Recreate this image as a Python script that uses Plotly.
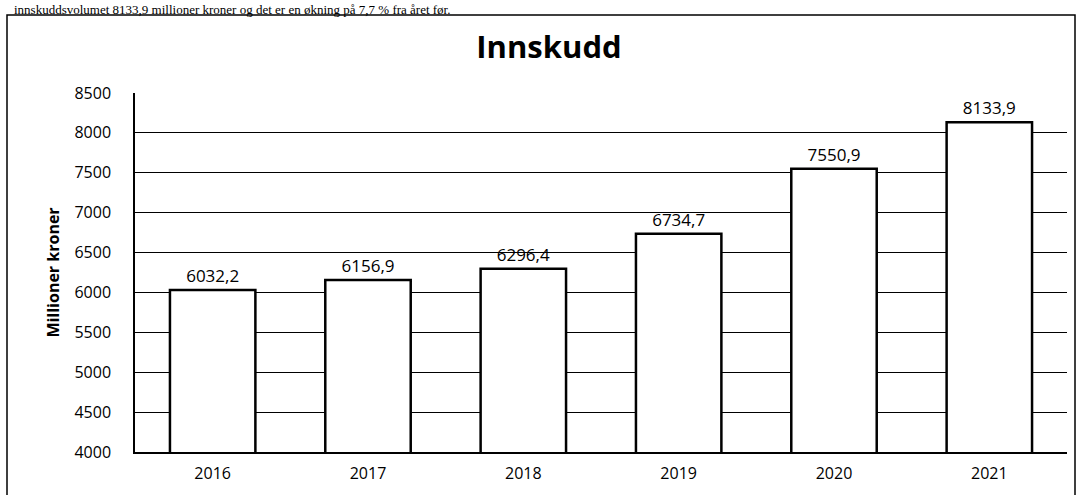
import plotly.graph_objects as go

years = ["2016", "2017", "2018", "2019", "2020", "2021"]
innskudd = [6032.2, 6156.9, 6296.4, 6734.7, 7550.9, 8133.9]
y_ticks = [4000, 4500, 5000, 5500, 6000, 6500, 7000, 7500, 8000, 8500]

labels = [f"{v:.1f}".replace(".", ",") for v in innskudd]

W, H = 1078, 495
L, R, T, B = 135, 11, 93, 43
pw, ph = W - L - R, H - T - B

def px_x(x):
    return (x - L) / pw

def px_y(y):
    return (H - B - y) / ph

fig = go.Figure()
fig.add_trace(go.Bar(
    x=years, y=innskudd, base=0,
    marker=dict(color="white", line=dict(color="black", width=2.5)),
    width=0.55,
    text=labels, textposition="outside", cliponaxis=False,
    textfont=dict(family="Open Sans", size=17, color="black"),
))

fig.update_layout(
    width=W, height=H,
    margin=dict(l=L, r=R, t=T, b=B, autoexpand=False),
    paper_bgcolor="white", plot_bgcolor="white",
    showlegend=False,
    font=dict(family="Open Sans", color="black"),
    title=dict(text="<b>Innskudd</b>", x=549 / W, xanchor="center",
               y=1 - 47 / H, yanchor="middle",
               font=dict(family="Open Sans", size=31, color="black")),
    xaxis=dict(showgrid=False, showline=True, linecolor="black", linewidth=1.5,
               tickfont=dict(size=16), ticks="", ticklabelstandoff=6,
               automargin=False),
    yaxis=dict(range=[4000, 8500], tickvals=y_ticks, showgrid=True,
               gridcolor="black", gridwidth=1, showline=True, linecolor="black",
               linewidth=1.5, zeroline=False, tickfont=dict(size=16),
               ticks="", ticklabelstandoff=19, automargin=False,
               title=dict(text="<b>Millioner kroner</b>", font=dict(size=16), standoff=11)),
)

# outer frame of the chart
fig.add_shape(type="rect", xref="paper", yref="paper",
              x0=px_x(7), x1=px_x(1075), y0=px_y(520), y1=px_y(15),
              line=dict(color="black", width=1.5), fillcolor="rgba(0,0,0,0)", layer="below")

# text line from the document above the chart
fig.add_annotation(xref="paper", yref="paper", x=px_x(12), y=px_y(0),
                   xanchor="left", yanchor="top", showarrow=False,
                   text="innskuddsvolumet 8133,9 millioner kroner og det er en økning på 7,7 % fra året før.",
                   font=dict(family="Liberation Serif", size=13, color="black"))

fig.write_html("out.html", config={"displayModeBar": False},
               post_script="document.body.style.margin='0';")
